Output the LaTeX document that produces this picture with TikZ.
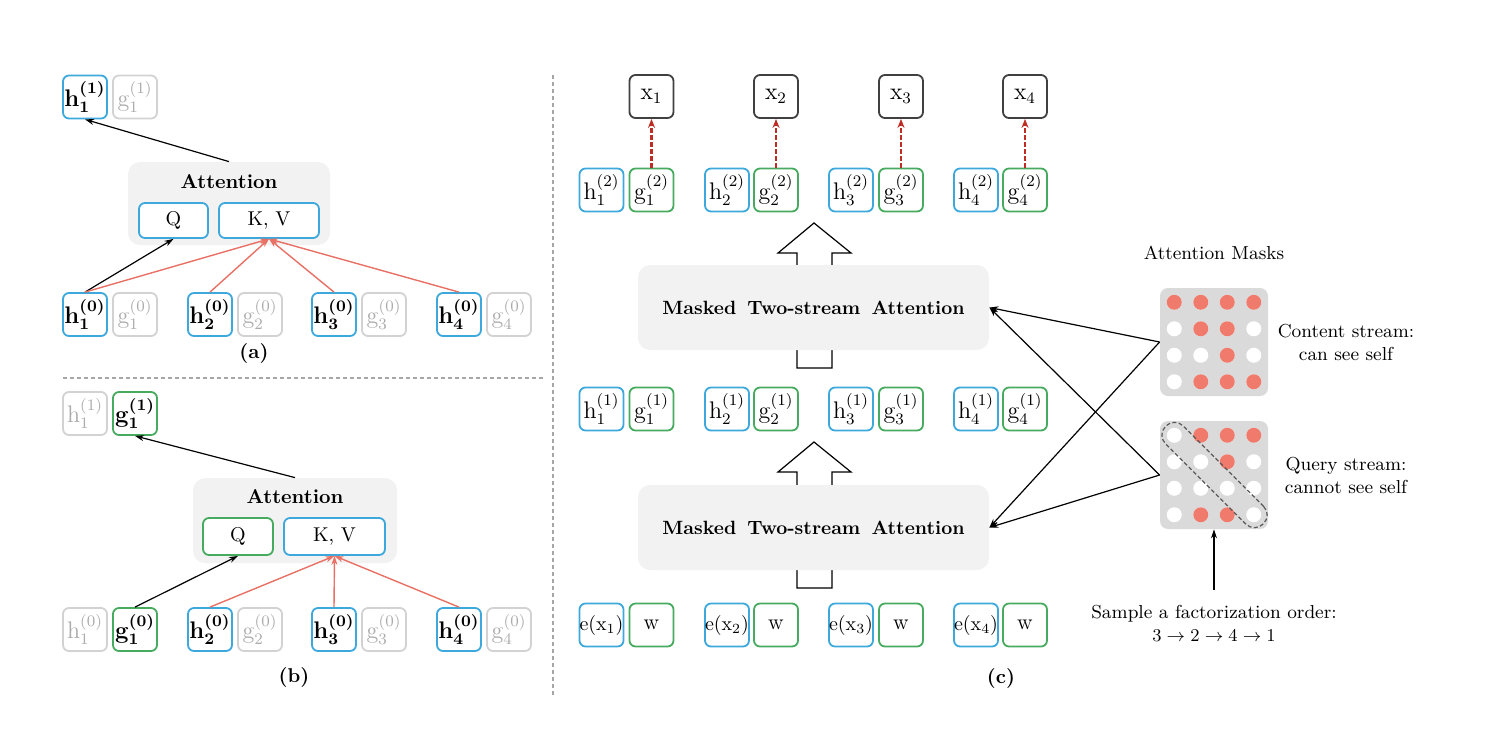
\documentclass[tikz,border=0pt]{standalone}
\usepackage{amsmath}
\usetikzlibrary{arrows.meta}
\definecolor{cblue}{RGB}{60,168,220}
\definecolor{cgreen}{RGB}{70,170,95}
\definecolor{cred}{RGB}{232,112,100}
\definecolor{cmask}{RGB}{240,122,108}
\definecolor{cdred}{RGB}{190,45,35}
\definecolor{cbg}{RGB}{242,242,242}
\definecolor{cmaskbg}{RGB}{218,218,218}
\newcommand{\cellhb}[2]{{\boldmath$\mathrm{h}^{(#1)}_{#2}$}}
\newcommand{\cellgb}[2]{{\boldmath$\mathrm{g}^{(#1)}_{#2}$}}
\newcommand{\cellhr}[2]{$\mathrm{h}^{(#1)}_{#2}$}
\newcommand{\cellgr}[2]{$\mathrm{g}^{(#1)}_{#2}$}
\tikzset{
  cell/.style={rounded corners=3pt, line width=0.9pt, minimum width=22pt, minimum height=21.5pt, inner sep=0pt, font=\fontsize{11.5}{13}\selectfont, fill=white},
  hcell/.style={cell, draw=cblue},
  gcell/.style={cell, draw=cgreen},
  offcell/.style={cell, draw=gray!35, text=gray!65},
  xcell/.style={cell, draw=black!75},
  attbox/.style={fill=cbg, rounded corners=6pt, inner sep=0pt},
  qkv/.style={rounded corners=3pt, line width=0.9pt, inner sep=0pt, minimum height=17.5pt, font=\fontsize{10}{12}\selectfont, fill=white},
  arr/.style={-{Stealth[length=4.5pt,width=3pt]}, line width=0.6pt},
  redarr/.style={arr, draw=cred, line width=0.7pt},
  dredarr/.style={-{Stealth[length=4.5pt,width=3.5pt]}, draw=cdred, line width=1.2pt, dash pattern=on 2.5pt off 1pt},
  lbl/.style={font=\fontsize{9.4}{11.5}\selectfont},
  bigarr/.style={draw=black, line width=0.6pt, fill=white},
  sep/.style={draw=gray!70, line width=0.7pt, dash pattern=on 2pt off 1.5pt},
  mtsa/.style={attbox, minimum width=175.5pt, minimum height=42.5pt, font=\fontsize{9.6}{12}\selectfont\bfseries},
  maskbg/.style={fill=cmaskbg, rounded corners=4pt, minimum width=54pt, minimum height=54pt, inner sep=0pt},
}
\begin{document}
\begin{tikzpicture}[x=0.5pt,y=-0.5pt]
\useasboundingbox (0,0) rectangle (1486,740);

% ---------- panel (a) ----------
\node[hcell] (ah1t) at (85,97) {\cellhb{1}{1}};
\node[offcell] (ag1t) at (135,97) {\cellgr{1}{1}};
\node[attbox, minimum width=101pt, minimum height=41.5pt] (aatt) at (229,203.5) {};
\node[font=\fontsize{10}{12}\selectfont\bfseries] (aattl) at (229,182) {Attention};
\node[qkv, draw=cblue, minimum width=34.5pt] (aq) at (173.5,220.5) {Q};
\node[qkv, draw=cblue, minimum width=50pt] (akv) at (269,220.5) {K, V};
\node[hcell] (ah1) at (85,314.5) {\cellhb{0}{1}};
\node[offcell] (ag1) at (135,314.5) {\cellgr{0}{1}};
\node[hcell] (ah2) at (210,314.5) {\cellhb{0}{2}};
\node[offcell] (ag2) at (260,314.5) {\cellgr{0}{2}};
\node[hcell] (ah3) at (334,314.5) {\cellhb{0}{3}};
\node[offcell] (ag3) at (384,314.5) {\cellgr{0}{3}};
\node[hcell] (ah4) at (459,314.5) {\cellhb{0}{4}};
\node[offcell] (ag4) at (509,314.5) {\cellgr{0}{4}};
\node[font=\fontsize{10}{12}\selectfont\bfseries] (alab) at (254,353) {(a)};
\draw[arr] (aatt.north) -- (ah1t.south);
\draw[arr] (ah1.north) -- (aq.south);
\foreach \n in {ah1,ah2,ah3,ah4} \draw[redarr] (\n.north) -- (akv.south);

\draw[sep] (63,378) -- (545,378);

% ---------- panel (b) ----------
\node[offcell] (bh1t) at (85,413.5) {\cellhr{1}{1}};
\node[gcell] (bg1t) at (135,413.5) {\cellgb{1}{1}};
\node[attbox, minimum width=102pt, minimum height=42.5pt] (batt) at (295,520.5) {};
\node[font=\fontsize{10}{12}\selectfont\bfseries] (battl) at (295,497) {Attention};
\node[qkv, draw=cgreen, minimum width=35pt, minimum height=18.5pt] (bq) at (238,536.5) {Q};
\node[qkv, draw=cblue, minimum width=50.5pt, minimum height=18.5pt] (bkv) at (334.5,536.5) {K, V};
\node[offcell] (bh1) at (85,629.5) {\cellhr{0}{1}};
\node[gcell] (bg1) at (135,629.5) {\cellgb{0}{1}};
\node[hcell] (bh2) at (210,629.5) {\cellhb{0}{2}};
\node[offcell] (bg2) at (260,629.5) {\cellgr{0}{2}};
\node[hcell] (bh3) at (334,629.5) {\cellhb{0}{3}};
\node[offcell] (bg3) at (384,629.5) {\cellgr{0}{3}};
\node[hcell] (bh4) at (459,629.5) {\cellhb{0}{4}};
\node[offcell] (bg4) at (509,629.5) {\cellgr{0}{4}};
\node[font=\fontsize{10}{12}\selectfont\bfseries] (blab) at (294,677) {(b)};
\draw[arr] (batt.north) -- (bg1t.south);
\draw[arr] (bg1.north) -- (bq.south);
\foreach \n in {bh2,bh3,bh4} \draw[redarr] (\n.north) -- (bkv.south);

\draw[sep] (553,75) -- (553,695);

% ---------- panel (c) ----------
% hollow arrows (behind boxes)
\draw[bigarr] (797,368) -- (797,253) -- (778,253) -- (814,223) -- (851,253) -- (832,253) -- (832,368) -- cycle;
\draw[bigarr] (797,588) -- (797,472) -- (778,472) -- (814,442) -- (851,472) -- (832,472) -- (832,588) -- cycle;
\node[mtsa] (m1) at (813.5,307.5) {Masked\hspace{0.2em} Two-stream\hspace{0.2em} Attention};
\node[mtsa] (m2) at (813.5,527.5) {Masked\hspace{0.2em} Two-stream\hspace{0.2em} Attention};

\foreach \i/\xh/\xg in {1/601.5/651.5, 2/727/776, 3/851/901, 4/976/1025} {
  \node[xcell] (cx\i) at (\xg,96.5) {$\mathrm{x}_{\i}$};
  \node[hcell] (ch2\i) at (\xh,190) {\cellhr{2}{\i}};
  \node[gcell] (cg2\i) at (\xg,190) {\cellgr{2}{\i}};
  \node[hcell] (ch1\i) at (\xh,409) {\cellhr{1}{\i}};
  \node[gcell] (cg1\i) at (\xg,409) {\cellgr{1}{\i}};
  \node[hcell, font=\fontsize{10}{12}\selectfont] (ce\i) at (\xh,625) {$\mathrm{e}(\mathrm{x}_{\i})$};
  \node[gcell, font=\fontsize{11}{13}\selectfont] (cw\i) at (\xg,625) {w};
  \draw[dredarr] (cg2\i.north) -- (cx\i.south);
}
\node[font=\fontsize{10}{12}\selectfont\bfseries] (clab) at (1001,678) {(c)};

% masks
\node[lbl] (mtitle) at (1214,253) {Attention Masks};
\node[maskbg] (cmask) at (1214,342) {};
\node[maskbg] (qmask) at (1214,475) {};
\foreach \c in {1,...,4} \foreach \r in {1,...,4} {
  \fill[white] ({1214+(\c-2.5)*26.5},{342+(\r-2.5)*26.5}) circle (3.75pt);
  \fill[white] ({1214+(\c-2.5)*26.5},{475+(\r-2.5)*26.5}) circle (3.75pt);
}
\foreach \c/\r in {1/1,2/1,3/1,4/1,2/2,3/2,3/3,2/4,3/4,4/4}
  \fill[cmask] ({1214+(\c-2.5)*26.5},{342+(\r-2.5)*26.5}) circle (3.75pt);
\foreach \c/\r in {2/1,3/1,4/1,3/2,2/4,3/4}
  \fill[cmask] ({1214+(\c-2.5)*26.5},{475+(\r-2.5)*26.5}) circle (3.75pt);
\node[draw=black!65, dash pattern=on 2pt off 1.2pt, line width=0.6pt, rounded corners=6pt, minimum width=69pt, minimum height=12.5pt, rotate=-45, inner sep=0pt] (diag) at (1214.5,475) {};

\node[lbl, align=center] (ctext) at (1346,342) {Content stream:\\can see self};
\node[lbl, align=center] (qtext) at (1346,475) {Query stream:\\cannot see self};
\node[lbl, align=center] (samp) at (1214,623) {Sample a factorization order:\\$3 \rightarrow 2 \rightarrow 4 \rightarrow 1$};
\draw[arr, shorten <=4pt] (samp.north) -- (qmask.south);

\draw[arr] (cmask.west) -- (m1.east);
\draw[arr] (cmask.west) -- (m2.east);
\draw[arr] (qmask.west) -- (m1.east);
\draw[arr] (qmask.west) -- (m2.east);
\end{tikzpicture}
\end{document}
